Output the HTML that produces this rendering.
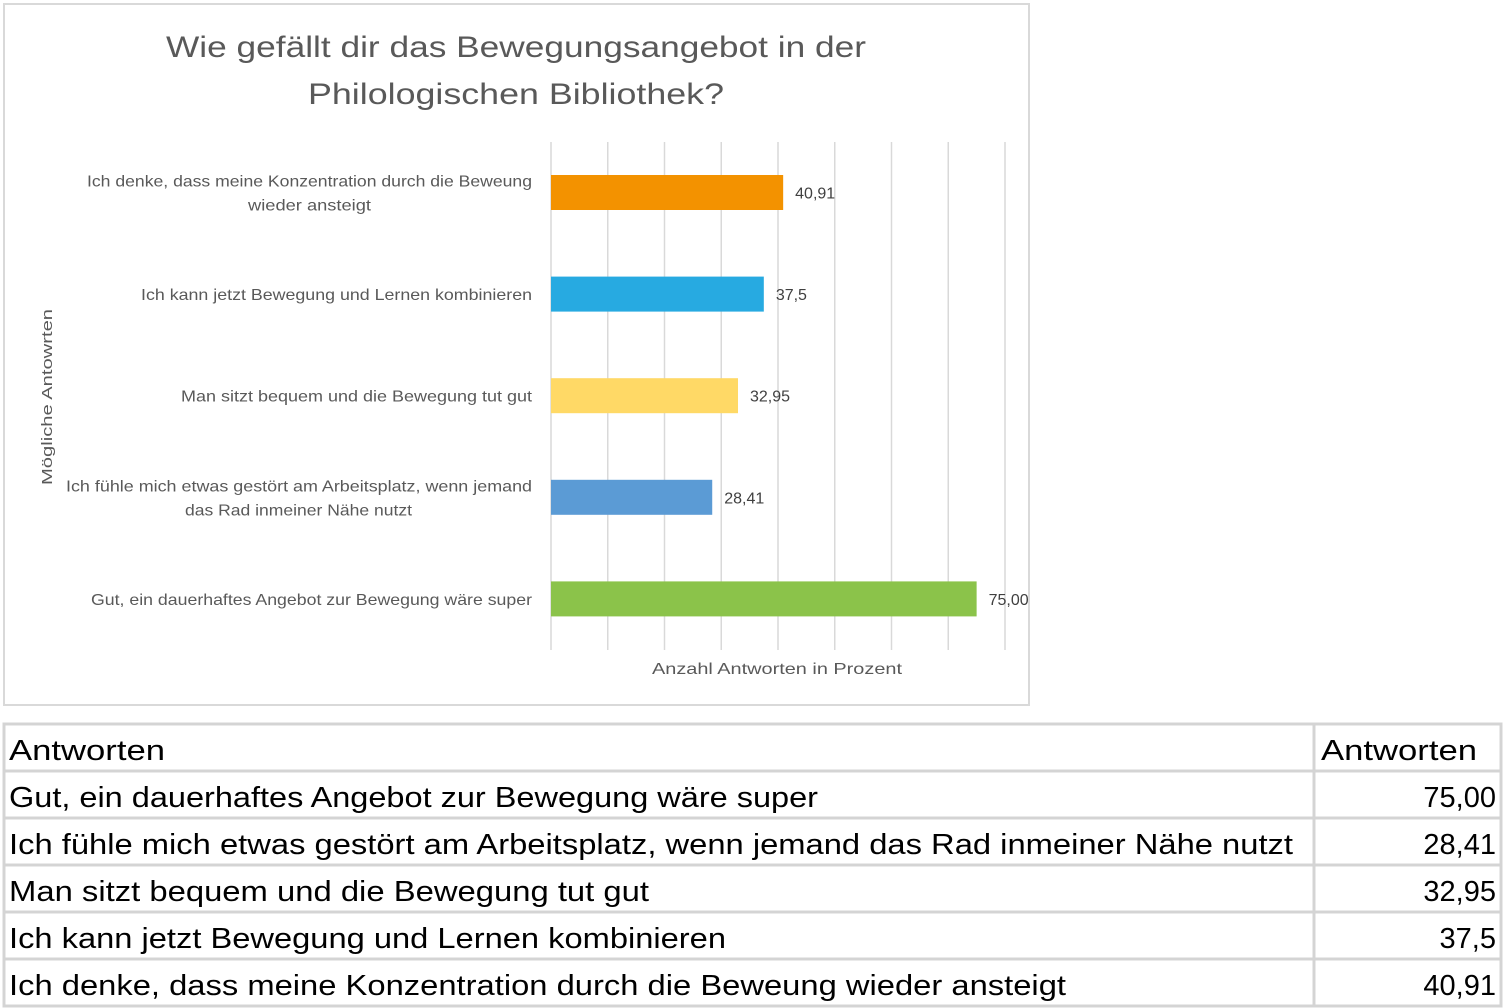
<!DOCTYPE html>
<html><head><meta charset="utf-8"><style>
html,body{margin:0;padding:0;background:#fff;}
svg{display:block;font-family:"Liberation Sans",sans-serif;}
</style></head><body>
<svg id="root" width="1506" height="1008" viewBox="0 0 1506 1008">
<rect x="4" y="4" width="1025" height="701" fill="#fff" stroke="#d9d9d9" stroke-width="2"/>
<g fill="#595959" font-size="30" text-anchor="middle">
<text x="516" y="57" textLength="700" lengthAdjust="spacingAndGlyphs">Wie gefällt dir das Bewegungsangebot in der</text>
<text x="516" y="104" textLength="416" lengthAdjust="spacingAndGlyphs">Philologischen Bibliothek?</text>
</g>
<g id="grid"></g>
<g id="bars"></g>
<g id="cats"></g>
<text x="0" y="0" transform="translate(52,397) rotate(-90)" font-size="15" fill="#595959" text-anchor="middle" textLength="176" lengthAdjust="spacingAndGlyphs">Mögliche Antowrten</text>
<text x="777" y="674" font-size="16" fill="#595959" text-anchor="middle" textLength="250" lengthAdjust="spacingAndGlyphs">Anzahl Antworten  in Prozent</text>
<g id="table"></g>
</svg>
<script>
const categories=["Ich denke, dass meine Konzentration durch die Beweung wieder ansteigt","Ich kann jetzt Bewegung und Lernen kombinieren","Man sitzt bequem und die Bewegung tut gut","Ich fühle mich etwas gestört am Arbeitsplatz, wenn jemand das Rad inmeiner Nähe nutzt","Gut, ein dauerhaftes Angebot zur Bewegung wäre super"];
const catLines=[["Ich denke, dass meine Konzentration durch die Beweung","wieder ansteigt"],["Ich kann jetzt Bewegung und Lernen kombinieren"],["Man sitzt bequem und die Bewegung tut gut"],["Ich fühle mich etwas gestört am Arbeitsplatz, wenn jemand","das Rad inmeiner Nähe nutzt"],["Gut, ein dauerhaftes Angebot zur Bewegung wäre super"]];
const values=[40.91,37.5,32.95,28.41,75.00];
const valueLabels=["40,91","37,5","32,95","28,41","75,00"];
const colors=["#f39200","#27aae1","#ffd966","#5b9bd5","#8bc34a"];
const gridTicks=[0,10,20,30,40,50,60,70,80];
const tableRows=["Gut, ein dauerhaftes Angebot zur Bewegung wäre super","Ich fühle mich etwas gestört am Arbeitsplatz, wenn jemand das Rad inmeiner Nähe nutzt","Man sitzt bequem und die Bewegung tut gut","Ich kann jetzt Bewegung und Lernen kombinieren","Ich denke, dass meine Konzentration durch die Beweung wieder ansteigt"];
const tableVals=["75,00","28,41","32,95","37,5","40,91"];

const NS="http://www.w3.org/2000/svg";
function mk(t,a,p){const e=document.createElementNS(NS,t);for(const k in a)e.setAttribute(k,a[k]);p.appendChild(e);return e;}
const x=v=>551+v*(454/80);
const y=i=>192.5+i*101.6;
const lineBox=[[[87,445],[248,123]],[[141,391]],[[181,351]],[[66,466],[185,227]],[[91,441]]];
const grid=document.getElementById('grid');
gridTicks.forEach(t=>{const l=mk('line',{x1:x(t),x2:x(t),y1:142,y2:650,stroke:'#d9d9d9','stroke-width':1.5},grid);

});
const bars=document.getElementById('bars'),cats=document.getElementById('cats');
values.forEach((v,i)=>{
 const r=mk('rect',{x:x(0),y:y(i)-17.5,width:x(v)-x(0),height:35,fill:colors[i]},bars);
 
 
 const t=mk('text',{x:x(v)+12,y:y(i)+6,'font-size':16,fill:'#404040'},bars);t.textContent=valueLabels[i];
 
 
 const lines=catLines[i];
 lines.forEach((s,j)=>{
  const cy=y(i)+6+(j-(lines.length-1)/2)*24;
  const bx=lineBox[i][j];
  const tt=mk('text',{x:bx[0],y:cy,'font-size':16,fill:'#595959',textLength:bx[1],lengthAdjust:'spacingAndGlyphs'},cats);tt.textContent=s;
  
  
 });
});
const tbl=document.getElementById('table');
const rowY=[724,771,818,865,912,959,1006];
mk('rect',{x:4,y:724,width:1497,height:282,fill:'none',stroke:'#d4d4d4','stroke-width':3},tbl);
rowY.slice(1,6).forEach(yy=>mk('line',{x1:4,x2:1501,y1:yy,y2:yy,stroke:'#d4d4d4','stroke-width':3},tbl));
mk('line',{x1:1314,x2:1314,y1:724,y2:1006,stroke:'#d4d4d4','stroke-width':3},tbl);
const widths=[818,1293,649,726,1066];
const h1=mk('text',{x:9,y:760,'font-size':29,fill:'#000',textLength:156,lengthAdjust:'spacingAndGlyphs'},tbl);h1.textContent="Antworten";


const h2=mk('text',{x:1321,y:760,'font-size':29,fill:'#000',textLength:156,lengthAdjust:'spacingAndGlyphs'},tbl);h2.textContent="Antworten";


tableRows.forEach((s,i)=>{
 const yy=rowY[i+1]+36;
 const a=mk('text',{x:9,y:yy,'font-size':29,fill:'#000',textLength:widths[i]-9,lengthAdjust:'spacingAndGlyphs'},tbl);a.textContent=s;
 
 
 const b=mk('text',{x:1496,y:yy,'font-size':29,fill:'#000','text-anchor':'end'},tbl);b.textContent=tableVals[i];
 
 
});
</script>
</body></html>
